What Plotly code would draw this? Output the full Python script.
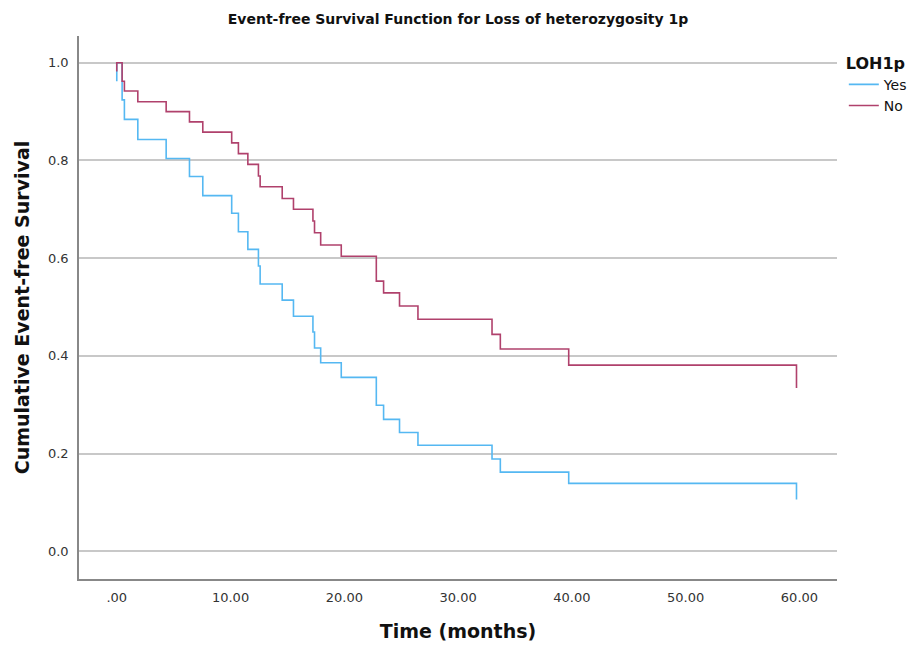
import plotly.graph_objects as go

# Kaplan-Meier step estimates (event-free survival) by LOH 1p status
event_months = [0.47, 0.67, 1.85, 4.34, 6.39, 7.56, 10.10, 10.69, 11.52, 12.45,
                12.60, 14.54, 15.53, 17.24, 17.38, 17.92, 19.73, 22.81, 23.45,
                24.85, 26.47, 32.98, 33.71, 39.72, 59.74]

surv_yes = [0.924, 0.884, 0.843, 0.804, 0.767, 0.728, 0.692, 0.654, 0.618, 0.584,
            0.547, 0.514, 0.481, 0.449, 0.416, 0.386, 0.356, 0.299, 0.270,
            0.243, 0.217, 0.189, 0.162, 0.139, 0.106]

surv_no = [0.962, 0.942, 0.920, 0.900, 0.879, 0.858, 0.836, 0.814, 0.792, 0.768,
           0.746, 0.722, 0.700, 0.676, 0.652, 0.627, 0.604, 0.553, 0.529,
           0.502, 0.475, 0.444, 0.414, 0.381, 0.334]

# value drawn at time zero before the curve rises to 1.0
start_yes = 0.962
start_no = 0.982

x_tick_vals = [0, 10, 20, 30, 40, 50, 60]
x_tick_text = [".00", "10.00", "20.00", "30.00", "40.00", "50.00", "60.00"]
y_tick_vals = [0.0, 0.2, 0.4, 0.6, 0.8, 1.0]
y_tick_text = ["0.0", "0.2", "0.4", "0.6", "0.8", "1.0"]

BLUE = "#55B8F2"
RED = "#B0416C"
FONT = "DejaVu Sans"

fig = go.Figure()
fig.add_trace(go.Scatter(
    x=[0, 0] + event_months, y=[start_yes, 1.0] + surv_yes,
    mode="lines", line=dict(color=BLUE, width=1.6, shape="hv"), name="Yes"))
fig.add_trace(go.Scatter(
    x=[0, 0] + event_months, y=[start_no, 1.0] + surv_no,
    mode="lines", line=dict(color=RED, width=1.6, shape="hv"), name="No"))

fig.update_layout(
    width=922, height=648,
    margin=dict(l=79, r=85, t=36, b=69, autoexpand=False),
    paper_bgcolor="white", plot_bgcolor="white",
    font=dict(family=FONT, color="#333333"),
    title=dict(text="<b>Event-free Survival Function for Loss of heterozygosity 1p</b>",
               font=dict(family=FONT, size=14, color="#111111"),
               x=0.5, xref="paper", xanchor="center",
               y=1 - 19 / 648, yref="container", yanchor="middle"),
    legend=dict(title=dict(text="<b>LOH1p</b>", font=dict(size=16, color="#111111")),
                font=dict(size=14, color="#111111"),
                x=1.009, xref="paper", xanchor="left",
                y=0.978, yanchor="top", bgcolor="rgba(0,0,0,0)",
                tracegroupgap=0, itemwidth=30),
    showlegend=True,
)

fig.update_xaxes(
    range=[-3.32, 63.3], tickvals=x_tick_vals, ticktext=x_tick_text,
    showgrid=False, zeroline=False, showline=True, linecolor="#888888", linewidth=1.5,
    ticks="", tickfont=dict(size=13, color="#333333"), ticklabelstandoff=6,
    title=dict(text="<b>Time (months)</b>", font=dict(size=19, color="#111111"), standoff=20),
    automargin=False,
)
fig.update_yaxes(
    range=[-0.0567, 1.0547], tickvals=y_tick_vals, ticktext=y_tick_text,
    showgrid=True, gridcolor="#C8C8C8", gridwidth=1.5,
    zeroline=False, showline=True, linecolor="#888888", linewidth=1.5,
    ticks="", tickfont=dict(size=13, color="#333333"), ticklabelstandoff=6,
    title=dict(text="<b>Cumulative Event-free Survival</b>", font=dict(size=19, color="#111111"), standoff=13),
    automargin=False,
)

fig.write_html("out.html")
